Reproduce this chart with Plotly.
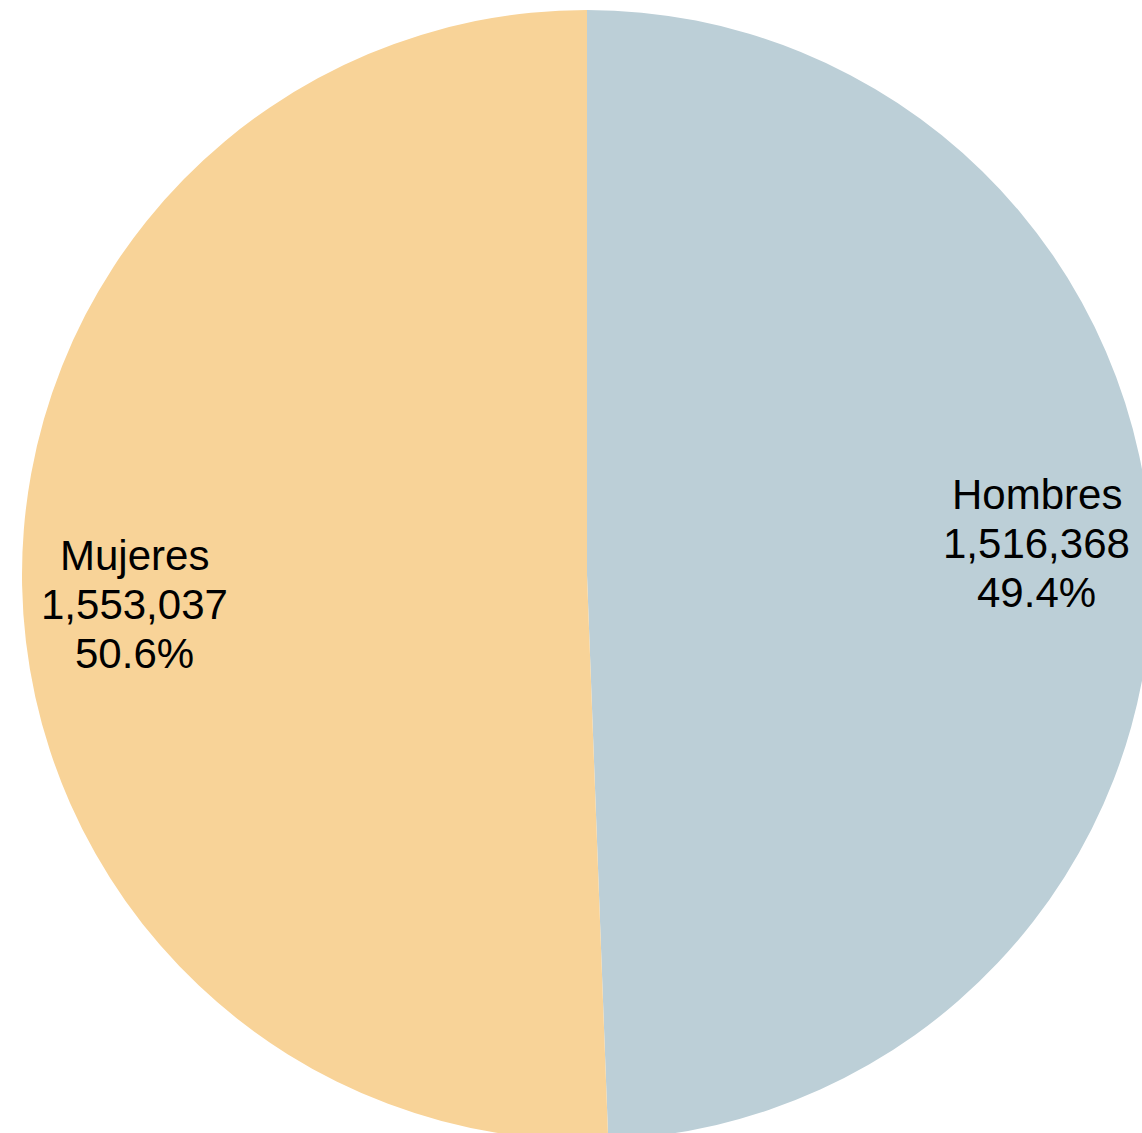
import plotly.graph_objects as go

labels = ["Hombres", "Mujeres"]
values = [1516368, 1553037]
colors = ["#BCCFD7", "#F8D398"]

W, H = 1174, 1150
total = sum(values)

fig = go.Figure(go.Pie(
    labels=labels,
    values=values,
    sort=False,
    direction="clockwise",
    rotation=0,
    marker=dict(colors=colors, line=dict(width=0)),
    textinfo="none",
    hoverinfo="label+value+percent",
    showlegend=False,
    domain=dict(x=[22 / W, 1152 / W], y=[10 / H, 1140 / H]),
))

# label line centres (pixels) for each slice
label_x = {"Hombres": 1036.5, "Mujeres": 134}
label_y = {"Hombres": [494.5, 543.5, 592.5], "Mujeres": [556, 604.5, 653]}
for lab, val in zip(labels, values):
    lines = [lab, f"{val:,}", f"{val / total * 100:.1f}%"]
    for txt, py in zip(lines, label_y[lab]):
        fig.add_annotation(
            x=label_x[lab] / W, y=1 - py / H, xref="paper", yref="paper",
            text=txt, showarrow=False, xanchor="center", yanchor="middle",
            font=dict(family="Liberation Sans, Arial, sans-serif", size=42, color="#000000"),
        )

fig.update_layout(
    width=W, height=H,
    margin=dict(l=0, r=0, t=0, b=0),
    paper_bgcolor="white", plot_bgcolor="white",
)

fig.write_html(
    "out.html",
    config={"displayModeBar": False},
    post_script="document.body.style.margin='0';document.body.style.overflow='hidden';document.documentElement.style.overflow='hidden';",
)
